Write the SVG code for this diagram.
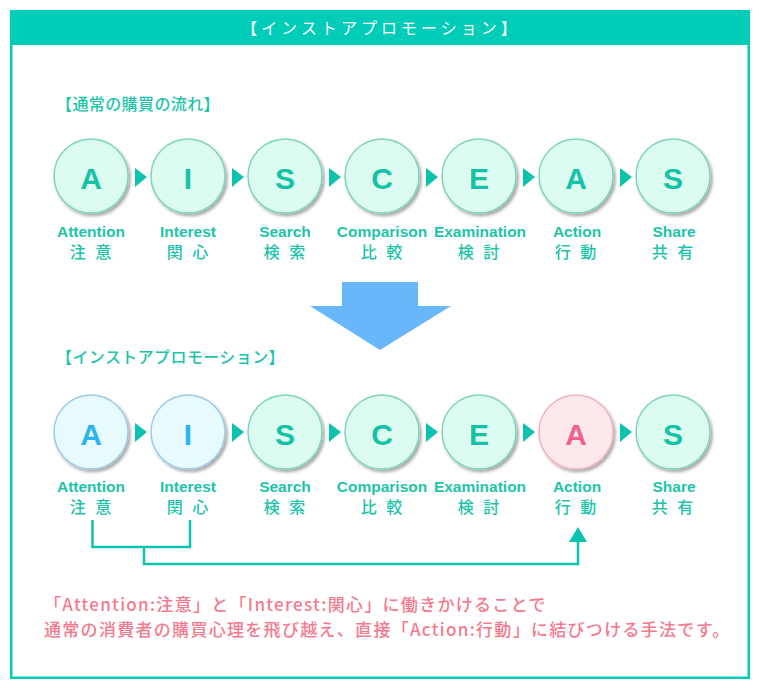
<svg xmlns="http://www.w3.org/2000/svg" width="759" height="688" viewBox="0 0 759 688">
<style>
.frame{fill:#fff;stroke:#00ccb7;stroke-width:2.5}
.band{fill:#00ccb7}
.title{font-family:"Noto Sans CJK JP",sans-serif;font-size:16px;fill:#fff;letter-spacing:4px;text-anchor:middle}
.sec{font-family:"Noto Sans CJK JP",sans-serif;font-size:16px;font-weight:500;fill:#1cc4aa;letter-spacing:0.4px}
.c{fill:#dcfbf1;stroke:#7dd5bb;stroke-width:1.5;filter:url(#sh)}
.cb{fill:#e7fafd;stroke:#9ccbe8;stroke-width:1.5;filter:url(#sh)}
.cp{fill:#fde9ec;stroke:#f0b2bd;stroke-width:1.5;filter:url(#sh)}
.L{font-family:"Liberation Sans",Arial,sans-serif;font-size:30px;font-weight:700;fill:#14c2a6;text-anchor:middle}
.Lb{fill:#2cb4f2}
.Lp{fill:#f55f8e}
.en{font-family:"Liberation Sans",Arial,sans-serif;font-size:15.5px;font-weight:700;fill:#1cc4aa;text-anchor:middle}
.jp{font-family:"Noto Sans CJK JP",sans-serif;font-size:16px;font-weight:500;fill:#1cc4aa;text-anchor:middle;letter-spacing:3px}
.tri{fill:#0cc4ad}
.ln{fill:none;stroke:#0cc4ad;stroke-width:2.5}
.note{font-family:"Noto Sans CJK JP",sans-serif;font-size:17px;font-weight:500;fill:#f47a8e;letter-spacing:1.3px}
</style>
<defs>
<filter id="sh" x="-20%" y="-20%" width="150%" height="150%">
<feDropShadow dx="2" dy="2.5" stdDeviation="1.6" flood-color="#000" flood-opacity="0.35"/>
</filter>
</defs>
<rect class="frame" x="11.25" y="11.25" width="737.5" height="666.5"/>
<rect class="band" x="10" y="10" width="740" height="35"/>
<text class="title" x="381" y="34">【インストアプロモーション】</text>
<text class="sec" x="56" y="110">【通常の購買の流れ】</text>
<text class="sec" x="56" y="363">【インストアプロモーション】</text>

<g id="connectors">
<polygon class="tri" points="135,168 147,177 135,187"/>
<polygon class="tri" points="232,168 244,177 232,187"/>
<polygon class="tri" points="329,168 341,177 329,187"/>
<polygon class="tri" points="426,168 438,177 426,187"/>
<polygon class="tri" points="523,168 535,177 523,187"/>
<polygon class="tri" points="620,168 632,177 620,187"/>
<polygon class="tri" points="135,423 147,432 135,442"/>
<polygon class="tri" points="232,423 244,432 232,442"/>
<polygon class="tri" points="329,423 341,432 329,442"/>
<polygon class="tri" points="426,423 438,432 426,442"/>
<polygon class="tri" points="523,423 535,432 523,442"/>
<polygon class="tri" points="620,423 632,432 620,442"/>
<polygon points="342,282 418,282 418,306 451,306 380,350 310,306 342,306" fill="#68b7fb"/>
<path class="ln" d="M92.5,520 V547 H190 V520 M144,547 V564 H578 V541"/>
<polygon class="tri" points="569,542 578,527 587,542"/>
</g>

<g id="n1"><circle class="c" cx="91" cy="176" r="37"/><text class="L" x="91" y="189">A</text><text class="en" x="91" y="237">Attention</text><text class="jp" x="92" y="258">注 意</text></g>
<g id="n2"><circle class="c" cx="188" cy="176" r="37"/><text class="L" x="188" y="189">I</text><text class="en" x="188" y="237">Interest</text><text class="jp" x="189" y="258">関 心</text></g>
<g id="n3"><circle class="c" cx="285" cy="176" r="37"/><text class="L" x="285" y="189">S</text><text class="en" x="285" y="237">Search</text><text class="jp" x="286" y="258">検 索</text></g>
<g id="n4"><circle class="c" cx="382" cy="176" r="37"/><text class="L" x="382" y="189">C</text><text class="en" x="382" y="237">Comparison</text><text class="jp" x="383" y="258">比 較</text></g>
<g id="n5"><circle class="c" cx="479" cy="176" r="37"/><text class="L" x="479" y="189">E</text><text class="en" x="480" y="237">Examination</text><text class="jp" x="480" y="258">検 討</text></g>
<g id="n6"><circle class="c" cx="576" cy="176" r="37"/><text class="L" x="576" y="189">A</text><text class="en" x="577" y="237">Action</text><text class="jp" x="577" y="258">行 動</text></g>
<g id="n7"><circle class="c" cx="673" cy="176" r="37"/><text class="L" x="673" y="189">S</text><text class="en" x="674" y="237">Share</text><text class="jp" x="674" y="258">共 有</text></g>

<g id="m1"><circle class="cb" cx="91" cy="432" r="37"/><text class="L Lb" x="91" y="445">A</text><text class="en" x="91" y="492">Attention</text><text class="jp" x="92" y="513">注 意</text></g>
<g id="m2"><circle class="cb" cx="188" cy="432" r="37"/><text class="L Lb" x="188" y="445">I</text><text class="en" x="188" y="492">Interest</text><text class="jp" x="189" y="513">関 心</text></g>
<g id="m3"><circle class="c" cx="285" cy="432" r="37"/><text class="L" x="285" y="445">S</text><text class="en" x="285" y="492">Search</text><text class="jp" x="286" y="513">検 索</text></g>
<g id="m4"><circle class="c" cx="382" cy="432" r="37"/><text class="L" x="382" y="445">C</text><text class="en" x="382" y="492">Comparison</text><text class="jp" x="383" y="513">比 較</text></g>
<g id="m5"><circle class="c" cx="479" cy="432" r="37"/><text class="L" x="479" y="445">E</text><text class="en" x="480" y="492">Examination</text><text class="jp" x="480" y="513">検 討</text></g>
<g id="m6"><circle class="cp" cx="576" cy="432" r="37"/><text class="L Lp" x="576" y="445">A</text><text class="en" x="577" y="492">Action</text><text class="jp" x="577" y="513">行 動</text></g>
<g id="m7"><circle class="c" cx="673" cy="432" r="37"/><text class="L" x="673" y="445">S</text><text class="en" x="674" y="492">Share</text><text class="jp" x="674" y="513">共 有</text></g>

<text class="note" x="44" y="611">「Attention:注意」と「Interest:関心」に働きかけることで</text>
<text class="note" x="44" y="636">通常の消費者の購買心理を飛び越え、直接「Action:行動」に結びつける手法です。</text>
</svg>
